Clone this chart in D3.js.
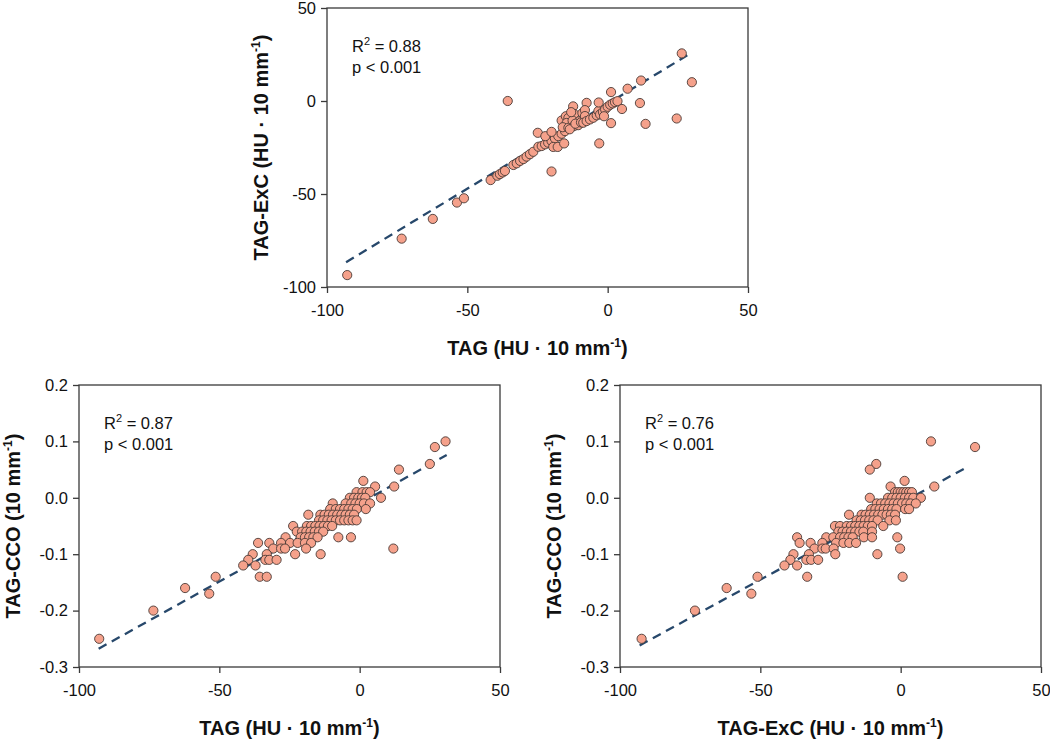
<!DOCTYPE html>
<html>
<head>
<meta charset="utf-8">
<script src="https://cdnjs.cloudflare.com/ajax/libs/d3/7.8.5/d3.min.js"></script>
<style>
  body { margin: 0; background: #fff; }
  svg { display: block; font-family: "Liberation Sans", Arial, Helvetica, sans-serif; }
</style>
</head>
<body>
<div id="chart"></div>
<script>
// tick values
var xTicks = [-100, -50, 0, 50];
var yTicksTop = [-100, -50, 0, 50];
var yTicksCco = [-0.3, -0.2, -0.1, 0.0, 0.1, 0.2];

// top panel: TAG (x) vs TAG-ExC (y)
var tagVsExc = [
  [-92.8,-93.6],[-73.4,-74.0],[-62.3,-63.4],[-53.7,-54.6],[-51.2,-52.3],[-41.7,-42.5],
  [-39.3,-40.2],[-38.4,-39.3],[-37.4,-38.4],[-36.6,-37.6],[-35.6,0.0],
  [-33.6,-34.4],[-32.4,-33.5],[-31.2,-32.2],[-30.0,-31.2],[-28.9,-29.9],[-27.7,-28.6],[-26.5,-27.3],
  [-24.9,-17.1],[-24.7,-24.6],[-23.5,-24.2],[-22.3,-23.3],[-21.2,-22.4],[-20.0,-21.5],[-18.8,-20.1],
  [-17.6,-18.9],[-16.4,-17.6],[-15.2,-16.2],[-22.2,-18.9],[-20.0,-16.6],[-19.4,-24.7],[-17.8,-24.7],
  [-20.0,-37.9],[-15.5,-22.8],[-16.4,-10.5],[-14.9,-8.2],[-14.0,-9.1],[-14.6,-11.8],[-16.0,-14.1],
  [-14.0,-14.4],[-12.3,-2.9],[-11.9,-7.0],[-12.5,-10.5],[-12.0,-13.5],[-10.5,-13.0],[-10.1,-10.9],
  [-13.5,-15.2],[-11.5,-12.2],[-9.5,-11.5],[-13.0,-6.0],[-9.0,-6.5],
  [-7.5,-1.0],[-8.1,-4.9],[-8.1,-8.1],[-8.7,-11.7],[-7.5,-10.8],[-6.3,-9.9],[-5.1,-9.0],[-3.9,-7.7],
  [-3.3,-5.4],[-2.7,-7.2],[-1.7,-5.9],[-0.9,-4.5],[0.0,-3.1],[0.9,-2.0],[1.8,-1.3],[2.6,-0.6],[3.5,-0.1],
  [-3.2,-0.8],[1.2,4.8],[-1.3,-8.2],[1.2,-11.9],[-3.0,-22.8],[5.1,-4.3],[7.1,6.6],[11.9,11.0],
  [11.5,-1.1],[13.5,-12.3],[24.6,-9.4],[26.4,25.6],[30.0,10.1]
];

// bottom left: TAG (x) vs TAG-CCO (y)
var tagVsCco = [
  [1.3,0.03],[5.5,0.02],[12.3,0.02],
  [-1.1,0.01],[1.0,0.01],[2.5,0.01],[3.7,0.01],
  [-3.5,0.0],[-2.0,0.0],[-0.5,0.0],[0.8,0.0],[2.0,0.0],[7.6,0.0],
  [-9.6,-0.01],[-5.0,-0.01],[-3.0,-0.01],[-1.5,-0.01],[0.0,-0.01],[1.5,-0.01],[3.7,-0.01],
  [-10.5,-0.02],[-8.5,-0.02],[-7.0,-0.02],[-5.5,-0.02],[-4.0,-0.02],[-2.5,-0.02],[-1.0,-0.02],[2.2,-0.02],
  [-18.3,-0.03],[-14.0,-0.03],[-12.5,-0.03],[-11.0,-0.03],[-9.5,-0.03],[-8.0,-0.03],[-6.5,-0.03],[-5.0,-0.03],[-3.5,-0.03],[-2.0,-0.03],
  [-14.5,-0.04],[-13.0,-0.04],[-11.5,-0.04],[-10.0,-0.04],[-8.5,-0.04],[-7.0,-0.04],[-5.5,-0.04],[-4.0,-0.04],[-2.5,-0.04],[-1.1,-0.04],
  [-23.7,-0.05],[-18.8,-0.05],[-17.3,-0.05],[-15.8,-0.05],[-14.3,-0.05],[-12.8,-0.05],[-11.3,-0.05],[-9.8,-0.05],
  [-22.4,-0.06],[-20.5,-0.06],[-19.0,-0.06],[-17.5,-0.06],[-16.0,-0.06],[-14.5,-0.06],[-13.0,-0.06],
  [-26.4,-0.07],[-21.0,-0.07],[-19.5,-0.07],[-18.0,-0.07],[-16.5,-0.07],[-15.0,-0.07],[-7.6,-0.07],[-3.1,-0.07],
  [-36.2,-0.08],[-32.2,-0.08],[-28.0,-0.08],[-24.8,-0.08],[-22.1,-0.08],[-19.5,-0.08],[-17.3,-0.08],
  [-30.8,-0.09],[-28.0,-0.09],[-26.6,-0.09],[-19.1,-0.09],[12.0,-0.09],
  [-38.1,-0.10],[-33.1,-0.10],[-23.0,-0.10],[-13.9,-0.10],
  [-39.7,-0.11],[-33.6,-0.11],[-32.2,-0.11],[-29.6,-0.11],
  [-41.5,-0.12],[-37.1,-0.12],
  [-51.3,-0.14],[-35.6,-0.14],[-33.1,-0.14],
  [-62.2,-0.16],[-53.6,-0.17],[-73.5,-0.20],[-92.8,-0.25],
  [14.0,0.05],[25.0,0.06],[26.8,0.09],[30.6,0.10]
];

// bottom right: TAG-ExC (x) vs TAG-CCO (y)
var excVsCco = [
  [10.8,0.10],[26.5,0.09],[-8.7,0.06],[-11.0,0.05],[1.4,0.03],[-3.6,0.02],[12.0,0.02],
  [-2.0,0.01],[-1.0,0.01],[0.0,0.01],[1.0,0.01],[2.0,0.01],[3.0,0.01],[4.0,0.01],
  [-11.0,0.0],[-4.5,0.0],[-3.0,0.0],[-1.5,0.0],[0.0,0.0],[1.5,0.0],[3.0,0.0],[4.5,0.0],[7.2,0.0],
  [-8.5,-0.01],[-7.0,-0.01],[-5.5,-0.01],[-4.0,-0.01],[-2.5,-0.01],[-1.0,-0.01],[0.5,-0.01],[2.0,-0.01],[3.5,-0.01],[5.4,-0.01],
  [-10.5,-0.02],[-9.0,-0.02],[-7.5,-0.02],[-6.0,-0.02],[-4.5,-0.02],[-3.0,-0.02],[-1.5,-0.02],[1.6,-0.02],[3.0,-0.02],
  [-18.4,-0.03],[-13.9,-0.03],[-12.5,-0.03],[-11.0,-0.03],[-9.5,-0.03],[-8.0,-0.03],[-6.5,-0.03],[-5.0,-0.03],[-3.5,-0.03],[-2.0,-0.03],
  [-15.7,-0.04],[-14.2,-0.04],[-12.7,-0.04],[-11.2,-0.04],[-9.7,-0.04],[-8.2,-0.04],[-4.0,-0.04],[-1.7,-0.04],
  [-23.4,-0.05],[-21.6,-0.05],[-19.2,-0.05],[-17.7,-0.05],[-16.2,-0.05],[-14.7,-0.05],[-13.2,-0.05],[-11.7,-0.05],[-10.2,-0.05],[-6.2,-0.05],
  [-22.2,-0.06],[-20.7,-0.06],[-19.2,-0.06],[-17.7,-0.06],[-16.2,-0.06],[-14.7,-0.06],[-13.3,-0.06],[-10.2,-0.06],
  [-36.9,-0.07],[-26.5,-0.07],[-24.0,-0.07],[-21.6,-0.07],[-20.1,-0.07],[-18.6,-0.07],[-17.1,-0.07],[-13.1,-0.07],[-10.2,-0.07],[-1.2,-0.07],
  [-36.0,-0.08],[-32.1,-0.08],[-27.9,-0.08],[-23.0,-0.08],[-20.4,-0.08],[-18.3,-0.08],[-15.9,-0.08],
  [-30.7,-0.09],[-27.9,-0.09],[-26.7,-0.09],[-23.9,-0.09],[-0.2,-0.09],
  [-38.2,-0.10],[-32.7,-0.10],[-23.3,-0.10],[-8.3,-0.10],
  [-39.3,-0.11],[-33.6,-0.11],[-31.9,-0.11],[-29.4,-0.11],
  [-41.4,-0.12],[-36.9,-0.12],
  [-51.0,-0.14],[-33.3,-0.14],[0.7,-0.14],
  [-62.0,-0.16],[-53.2,-0.17],[-73.3,-0.20],[-92.3,-0.25]
];

// regression fits: [slope, intercept, xStart, xEnd]
var fitTop = [0.915, -1.4, -93.2, 28.5];
var fitLeft = [0.00277, -0.010, -93.0, 31.0];
var fitRight = [0.00271, -0.0097, -93.0, 23.5];

var stats = { top: "0.88", left: "0.87", right: "0.76" };

var W = 1050, H = 739;
var dotFill = "#f5a18b", dotStroke = "#4a3a36", lineColor = "#27486b";

var svg = d3.select("#chart").append("svg").attr("width", W).attr("height", H);

function title(g, x, y, main, rotate) {
	var t = g.append("text")
		.attr("text-anchor", "middle")
		.attr("font-weight", "bold")
		.attr("font-size", "20px")
		.attr("fill", "#111");
	if (rotate) {
		t.attr("transform", "translate(" + x + "," + y + ") rotate(-90)");
	} else {
		t.attr("x", x).attr("y", y);
	}
	t.append("tspan").text(main + " mm");
	t.append("tspan").attr("dy", -8).attr("font-size", "12px").text("-1");
	t.append("tspan").attr("dy", 8).text(")");
}

function panel(cfg) {
	var x = d3.scaleLinear().domain([-100, 50]).range([cfg.left, cfg.left + 421]);
	var y = d3.scaleLinear().domain(cfg.yDomain).range([cfg.top + cfg.h, cfg.top]);
	var g = svg.append("g");

	// frame
	g.append("rect")
		.attr("x", cfg.left).attr("y", cfg.top)
		.attr("width", 421).attr("height", cfg.h)
		.attr("fill", "none").attr("stroke", "#3a3a3a").attr("stroke-width", 1.3);

	var xa = g.append("g")
		.attr("transform", "translate(0," + (cfg.top + cfg.h) + ")")
		.call(d3.axisBottom(x).tickValues(xTicks).tickSize(6).tickPadding(11).tickFormat(function(d){ return String(d); }));
	var ya = g.append("g")
		.attr("transform", "translate(" + cfg.left + ",0)")
		.call(d3.axisLeft(y).tickValues(cfg.yTicks).tickSize(6).tickPadding(5).tickFormat(cfg.fmt));
	[xa, ya].forEach(function(a){
		a.select(".domain").remove();
		a.selectAll("line").attr("stroke", "#3a3a3a").attr("stroke-width", 1.3);
		a.selectAll("text").attr("font-size", "16.5px").attr("fill", "#111")
			.attr("font-family", "'Liberation Sans', Arial, sans-serif");
	});

	// fit line
	var f = cfg.fit;
	g.append("line")
		.attr("x1", x(f[2])).attr("y1", y(f[0] * f[2] + f[1]))
		.attr("x2", x(f[3])).attr("y2", y(f[0] * f[3] + f[1]))
		.attr("stroke", lineColor).attr("stroke-width", 2.3)
		.attr("stroke-dasharray", "9,6");

	g.selectAll("circle")
		.data(cfg.points)
		.enter()
		.append("circle")
		.attr("cx", function(d){ return x(d[0]); })
		.attr("cy", function(d){ return y(d[1]); })
		.attr("r", 4.6)
		.attr("fill", dotFill)
		.attr("stroke", dotStroke)
		.attr("stroke-width", 0.9);

	// stats
	var s = g.append("text").attr("x", cfg.left + 25).attr("y", cfg.top + 44)
		.attr("font-size", "16.5px").attr("fill", "#111");
	s.append("tspan").text("R");
	s.append("tspan").attr("dy", -7).attr("font-size", "11px").text("2");
	s.append("tspan").attr("dy", 7).text(" = " + cfg.r2);
	g.append("text").attr("x", cfg.left + 25).attr("y", cfg.top + 65)
		.attr("font-size", "16.5px").attr("fill", "#111").text("p < 0.001");

	title(g, cfg.left + 210.5, cfg.top + cfg.h + 68, cfg.xTitle, false);
	title(g, cfg.left - 59, cfg.top + cfg.h / 2, cfg.yTitle, true);
}

var fmtInt = function(d){ return String(d); };
var fmtDec = function(d){ return d.toFixed(1); };

panel({ left: 327, top: 8, h: 279, yDomain: [-100, 50], yTicks: yTicksTop, fmt: fmtInt,
	points: tagVsExc, fit: fitTop, r2: stats.top,
	xTitle: "TAG (HU \u00b7 10", yTitle: "TAG-ExC (HU \u00b7 10" });
panel({ left: 79, top: 385, h: 282, yDomain: [-0.3, 0.2], yTicks: yTicksCco, fmt: fmtDec,
	points: tagVsCco, fit: fitLeft, r2: stats.left,
	xTitle: "TAG (HU \u00b7 10", yTitle: "TAG-CCO (10" });
panel({ left: 620, top: 385, h: 282, yDomain: [-0.3, 0.2], yTicks: yTicksCco, fmt: fmtDec,
	points: excVsCco, fit: fitRight, r2: stats.right,
	xTitle: "TAG-ExC (HU \u00b7 10", yTitle: "TAG-CCO (10" });
</script>
</body>
</html>
